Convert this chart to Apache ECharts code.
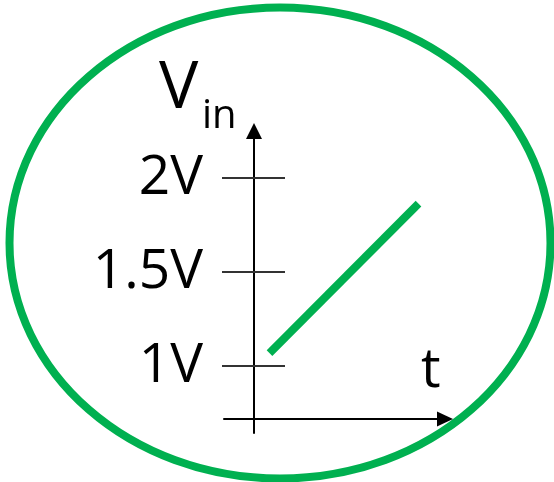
<!DOCTYPE html>
<html>
<head>
<meta charset="utf-8">
<script src="https://cdn.jsdelivr.net/npm/echarts@6/dist/echarts.min.js"></script>
<style>
  html, body { margin: 0; padding: 0; background: #fff; }
  #chart { width: 554px; height: 482px; }
</style>
</head>
<body>
<div id="chart"></div>
<script>
// Vin stiger linjärt med tiden (t i godtyckliga enheter, V i volt)
const T_VALUES = [0.155, 1.645]
const VIN_VALUES = [1.069, 1.864]
const TICK_VALUES = [1, 1.5, 2]
const GREEN = '#00b050'
const FONT = '"Open Sans", sans-serif'

const chart = echarts.init(document.getElementById('chart'))

const yBase = {
  type: 'value', position: 'left', offset: -30,
  min: 0.644, max: 2.25,
  splitLine: { show: false }
}

chart.setOption({
  animation: false,
  grid: { left: 224, right: 109, top: 131, bottom: 49, containLabel: false, outerBoundsMode: 'none' },
  xAxis: {
    type: 'value', min: -0.3, max: 1.91, offset: -14,
    axisLine: { onZero: false, symbol: ['none', 'triangle'], symbolSize: [15, 16],
      lineStyle: { color: '#000', width: 2 } },
    axisTick: { show: false }, axisLabel: { show: false }, splitLine: { show: false }
  },
  yAxis: [
    Object.assign({}, yBase, {
      axisLine: { show: true, onZero: false, symbol: ['none', 'triangle'], symbolSize: [16, 16],
        lineStyle: { color: '#000', width: 2 } },
      axisTick: { show: true, inside: false, length: 32, customValues: TICK_VALUES,
        lineStyle: { color: '#333', width: 2 } },
      axisLabel: { show: true, margin: 51, customValues: TICK_VALUES, formatter: v => v + 'V',
        fontFamily: FONT, fontSize: 55, color: '#000', padding: [0, 0, 18, 0] }
    }),
    Object.assign({}, yBase, {
      axisLine: { show: false, onZero: false },
      axisTick: { show: true, inside: true, length: 31, customValues: TICK_VALUES,
        lineStyle: { color: '#333', width: 2 } },
      axisLabel: { show: false }
    })
  ],
  graphic: [
    { type: 'ellipse', z: -1, shape: { cx: 280, cy: 243, rx: 270.5, ry: 235.5 },
      style: { fill: 'none', stroke: GREEN, lineWidth: 8 } },
    { type: 'text', x: 159, y: 89, style: { text: 'V', font: '66px ' + FONT, fill: '#000',
      verticalAlign: 'middle' } },
    { type: 'text', x: 202, y: 117, style: { text: 'in', font: '40px ' + FONT, fill: '#000',
      verticalAlign: 'middle' } },
    { type: 'text', x: 421, y: 371, style: { text: 't', font: '55px ' + FONT, fill: '#000',
      verticalAlign: 'middle' } }
  ],
  series: [{
    type: 'line', yAxisIndex: 0, showSymbol: false, silent: true,
    data: T_VALUES.map((t, i) => [t, VIN_VALUES[i]]),
    lineStyle: { color: GREEN, width: 8, cap: 'butt' }
  }]
})
window.addEventListener('resize', () => chart.resize())
</script>
</body>
</html>
